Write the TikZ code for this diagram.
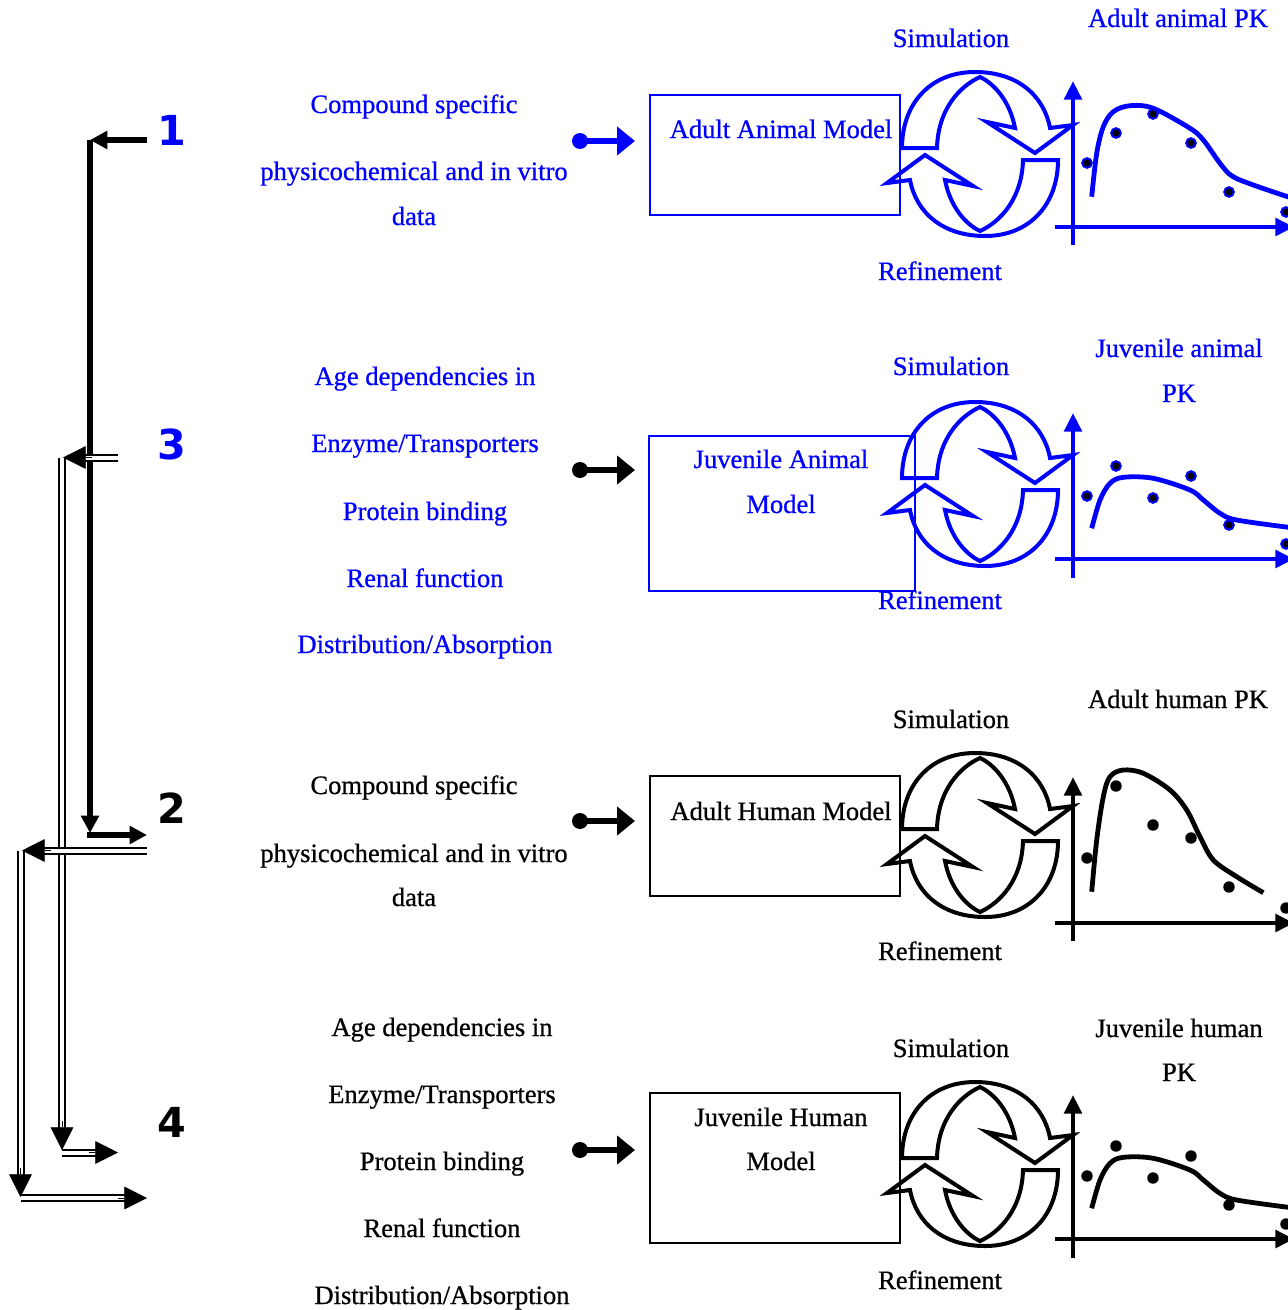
\documentclass[tikz,border=0pt]{standalone}
\usepackage{fontspec}
\setmainfont{Liberation Serif}[FakeBold=0.7]
\newfontfamily\numfont{DejaVu Sans}
\usetikzlibrary{arrows.meta,calc}
\definecolor{pblue}{RGB}{0,0,255}

\tikzset{
  lbl/.style={anchor=base, inner sep=0pt, font=\fontsize{19.9}{24}\selectfont},
  num/.style={anchor=base, inner sep=0pt, font=\numfont\bfseries\fontsize{31}{36}\selectfont},
  modelbox/.style={draw, line width=1.8pt},
  cyc/.style={line width=3pt, miter limit=10},
  axisline/.style={line width=3.4pt, -{Triangle[length=14pt,width=13pt]}},
  pkcurve/.style={line width=3.6pt, line cap=butt},
  feeddot/.style={circle, fill, inner sep=0pt, minimum size=12pt},
  feedarrow/.style={line width=4.5pt, -{Triangle[length=13.5pt,width=21pt]}},
  thickarrow/.style={line width=4.5pt, -{Triangle[length=13pt,width=13pt]}},
  dshaft/.style={double, double distance=3pt, line width=1.5pt},
  dtip/.style={line width=0.4pt, -{Triangle[length=17pt,width=17pt]}},
}

% two curved arrows chasing each other round a centre point
\newcommand\cyclearrows[2]{%
  \foreach \r in {0,180}{%
    \draw[cyc,#2,shift={#1},rotate=\r]
      (-78,-6) .. controls (-78,-50) and (-50,-82) .. (-5,-82)
      .. controls (38,-82) and (64,-58) .. (70,-26)
      -- (93,-29) -- (55,-1) -- (7,-32) -- (35,-26)
      .. controls (30,-52) and (15,-70) .. (0,-77)
      .. controls (-20,-68) and (-42,-45) .. (-43,-6) -- cycle;
  }%
}

\begin{document}
\begin{tikzpicture}[x=0.75pt,y=-0.75pt]
\useasboundingbox (0,0) rectangle (1288,1310);
\fill[white] (0,0) rectangle (1288,1310);

% ---------------- step numbers ----------------
\node[num,pblue] (num1) at (172,145) {1};
\node[num,pblue] (num3) at (172,459) {3};
\node[num] (num2) at (172,823) {2};
\node[num] (num4) at (172,1137) {4};

% ---------------- left-hand routing arrows ----------------
\coordinate (a1s) at (147,140);
\coordinate (a1c) at (90,140);
\coordinate (a1d) at (90,833);
\coordinate (a1b) at (90,835);
\coordinate (a1e) at (147,835);
\draw[thickarrow] (a1s) -- (a1c);
\draw[thickarrow] (a1c) -- (a1d);
\draw[thickarrow,shorten <=-2.25pt] (a1b) -- (a1e);

\coordinate (a3s) at (118,457.5);
\coordinate (a3c) at (63,457.5);
\coordinate (a3v) at (62,457.5);
\coordinate (a3d) at (62,1150);
\coordinate (a3b) at (62,1152.5);
\coordinate (a3e) at (118,1152.5);
\draw[dshaft,shorten >=12pt] (a3s) -- (a3c);
\draw[dtip] ($(a3c)!22pt!(a3s)$) -- (a3c);
\draw[dshaft,shorten >=12pt] (a3v) -- (a3d);
\draw[dtip] ($(a3d)!22pt!(a3v)$) -- (a3d);
\draw[dshaft,shorten >=12pt] (a3b) -- (a3e);
\draw[dtip] ($(a3e)!22pt!(a3b)$) -- (a3e);

\coordinate (a2s) at (147,850.5);
\coordinate (a2c) at (22,850.5);
\coordinate (a2v) at (20.5,850.5);
\coordinate (a2d) at (20.5,1197);
\coordinate (a2b) at (20.5,1198);
\coordinate (a2e) at (147,1198);
\draw[dshaft,shorten >=12pt] (a2s) -- (a2c);
\draw[dtip] ($(a2c)!22pt!(a2s)$) -- (a2c);
\draw[dshaft,shorten >=12pt] (a2v) -- (a2d);
\draw[dtip] ($(a2d)!22pt!(a2v)$) -- (a2d);
\draw[dshaft,shorten >=12pt] (a2b) -- (a2e);
\draw[dtip] ($(a2e)!22pt!(a2b)$) -- (a2e);

% ================= panel 1 : adult animal =================
\begin{scope}[pblue]
\node[lbl] (t1a) at (414,113) {Compound specific};
\node[lbl] (t1b) at (414,180) {physicochemical and in vitro};
\node[lbl] (t1c) at (414,225) {data};
\node[feeddot] (f1) at (580,141) {};
\coordinate (f1e) at (635,141);
\draw[feedarrow] (f1.center) -- (f1e);
\draw[modelbox] (650,95) rectangle (900,215);
\node[lbl] (m1) at (781,138) {Adult Animal Model};
\cyclearrows{(980,154)}{pblue}
\node[lbl] (s1) at (951,47) {Simulation};
\node[lbl] (r1) at (940,280) {Refinement};
\node[lbl] (p1) at (1178,27) {Adult animal PK};
\draw[axisline] (1073,245) -- (1073,81);
\draw[axisline] (1055,227) -- (1294,227);
\draw[pkcurve] plot[smooth,tension=0.55] coordinates {
  (1091.7,196.7) (1096.7,153.3) (1103.3,126.7) (1113.3,111.7) (1130,105.7)
  (1153.3,108.3) (1190,128.3) (1203.3,140) (1220,163.3) (1232,176)
  (1253.3,185) (1290,197.5)};
\foreach \p in {(1087,163),(1116,133),(1153,114),(1191,143),(1229,192),(1286,212)}
  \filldraw[fill=black,draw=pblue,line width=1.5pt] \p circle[radius=3.6pt];
\end{scope}

% ================= panel 2 : juvenile animal =================
\begin{scope}[pblue]
\node[lbl] (t2a) at (425,385) {Age dependencies in};
\node[lbl] (t2b) at (425,452) {Enzyme/Transporters};
\node[lbl] (t2c) at (425,520) {Protein binding};
\node[lbl] (t2d) at (425,587) {Renal function};
\node[lbl] (t2e) at (425,653) {Distribution/Absorption};
\cyclearrows{(980,484)}{pblue}
\draw[modelbox] (649,436) rectangle (915,591);
\node[lbl] (m2a) at (781,468) {Juvenile Animal};
\node[lbl] (m2b) at (781,513) {Model};
\node[lbl] (s2) at (951,375) {Simulation};
\node[lbl] (r2) at (940,609) {Refinement};
\node[lbl] (p2a) at (1179,357) {Juvenile animal};
\node[lbl] (p2b) at (1179,402) {PK};
\draw[axisline] (1073,578) -- (1073,413);
\draw[axisline] (1055,559) -- (1294,559);
\draw[pkcurve] plot[smooth,tension=0.55] coordinates {
  (1091.7,528.3) (1100,500) (1110,483.3) (1123.3,477.3) (1153.3,478.3)
  (1190,490) (1203.3,500) (1220,513.3) (1236.7,520) (1290,527.5)};
\foreach \p in {(1087,496),(1116,466),(1153,498),(1191,476),(1229,525),(1286,544)}
  \filldraw[fill=black,draw=pblue,line width=1.5pt] \p circle[radius=3.6pt];
\end{scope}
\node[feeddot] (f2) at (580,470) {};
\coordinate (f2e) at (635,470);
\draw[feedarrow] (f2.center) -- (f2e);

% ================= panel 3 : adult human =================
\node[lbl] (t3a) at (414,794) {Compound specific};
\node[lbl] (t3b) at (414,862) {physicochemical and in vitro};
\node[lbl] (t3c) at (414,906) {data};
\node[feeddot] (f3) at (580,821) {};
\coordinate (f3e) at (635,821);
\draw[feedarrow] (f3.center) -- (f3e);
\draw[modelbox] (650,776) rectangle (900,896);
\node[lbl] (m3) at (781,820) {Adult Human Model};
\cyclearrows{(980,835)}{black}
\node[lbl] (s3) at (951,728) {Simulation};
\node[lbl] (r3) at (940,960) {Refinement};
\node[lbl] (p3) at (1178,708) {Adult human PK};
\draw[axisline] (1073,941) -- (1073,777);
\draw[axisline] (1055,923) -- (1294,923);
\draw[pkcurve] plot[smooth,tension=0.55] coordinates {
  (1091.7,891.7) (1096.7,840) (1103.3,796.7) (1110,776.7) (1123.3,770)
  (1143.3,773.3) (1170,790) (1186.7,810) (1200,836.7) (1213.3,860)
  (1236.7,876.7) (1263.3,892.7)};
\foreach \p in {(1087,858),(1116,786),(1153,825),(1191,838),(1229,887),(1286,908)}
  \fill \p circle[radius=4.3pt];

% ================= panel 4 : juvenile human =================
\node[lbl] (t4a) at (442,1036) {Age dependencies in};
\node[lbl] (t4b) at (442,1103) {Enzyme/Transporters};
\node[lbl] (t4c) at (442,1170) {Protein binding};
\node[lbl] (t4d) at (442,1237) {Renal function};
\node[lbl] (t4e) at (442,1304) {Distribution/Absorption};
\node[feeddot] (f4) at (580,1150) {};
\coordinate (f4e) at (635,1150);
\draw[feedarrow] (f4.center) -- (f4e);
\cyclearrows{(980,1164)}{black}
\draw[modelbox] (650,1093) rectangle (900,1243);
\node[lbl] (m4a) at (781,1126) {Juvenile Human};
\node[lbl] (m4b) at (781,1170) {Model};
\node[lbl] (s4) at (951,1057) {Simulation};
\node[lbl] (r4) at (940,1289) {Refinement};
\node[lbl] (p4a) at (1179,1037) {Juvenile human};
\node[lbl] (p4b) at (1179,1081) {PK};
\draw[axisline] (1073,1258) -- (1073,1095);
\draw[axisline] (1055,1239) -- (1294,1239);
\draw[pkcurve] plot[smooth,tension=0.55] coordinates {
  (1091.7,1208.3) (1100,1180) (1110,1163.3) (1123.3,1157.3) (1153.3,1158.3)
  (1190,1170) (1203.3,1180) (1220,1193.3) (1236.7,1200) (1290,1207.5)};
\foreach \p in {(1087,1176),(1116,1146),(1153,1178),(1191,1156),(1229,1205),(1286,1224)}
  \fill \p circle[radius=4.3pt];

\end{tikzpicture}
\end{document}
